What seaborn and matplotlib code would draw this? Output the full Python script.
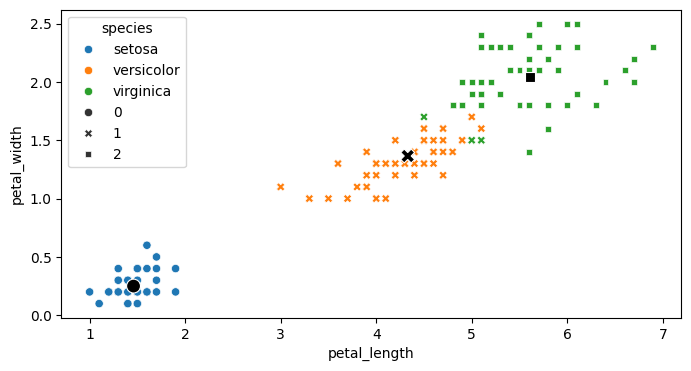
import numpy as np
import pandas as pd
import matplotlib
matplotlib.use("Agg")
import matplotlib.pyplot as plt
import seaborn as sns

# iris petal measurements (setosa, versicolor, virginica in order)
petal_length = [
    1.4, 1.4, 1.3, 1.5, 1.4, 1.7, 1.4, 1.5, 1.4, 1.5,
    1.5, 1.6, 1.4, 1.1, 1.2, 1.5, 1.3, 1.4, 1.7, 1.5,
    1.7, 1.5, 1.0, 1.7, 1.9, 1.6, 1.6, 1.5, 1.4, 1.6,
    1.6, 1.5, 1.5, 1.4, 1.5, 1.2, 1.3, 1.4, 1.3, 1.5,
    1.3, 1.3, 1.3, 1.6, 1.9, 1.4, 1.6, 1.4, 1.5, 1.4,
    4.7, 4.5, 4.9, 4.0, 4.6, 4.5, 4.7, 3.3, 4.6, 3.9,
    3.5, 4.2, 4.0, 4.7, 3.6, 4.4, 4.5, 4.1, 4.5, 3.9,
    4.8, 4.0, 4.9, 4.7, 4.3, 4.4, 4.8, 5.0, 4.5, 3.5,
    3.8, 3.7, 3.9, 5.1, 4.5, 4.5, 4.7, 4.4, 4.1, 4.0,
    4.4, 4.6, 4.0, 3.3, 4.2, 4.2, 4.2, 4.3, 3.0, 4.1,
    6.0, 5.1, 5.9, 5.6, 5.8, 6.6, 4.5, 6.3, 5.8, 6.1,
    5.1, 5.3, 5.5, 5.0, 5.1, 5.3, 5.5, 6.7, 6.9, 5.0,
    5.7, 4.9, 6.7, 4.9, 5.7, 6.0, 4.8, 4.9, 5.6, 5.8,
    6.1, 6.4, 5.6, 5.1, 5.6, 6.1, 5.6, 5.5, 4.8, 5.4,
    5.6, 5.1, 5.1, 5.9, 5.7, 5.2, 5.0, 5.2, 5.4, 5.1,
]
petal_width = [
    0.2, 0.2, 0.2, 0.2, 0.2, 0.4, 0.3, 0.2, 0.2, 0.1,
    0.2, 0.2, 0.1, 0.1, 0.2, 0.4, 0.4, 0.3, 0.3, 0.3,
    0.2, 0.4, 0.2, 0.5, 0.2, 0.2, 0.4, 0.2, 0.2, 0.2,
    0.2, 0.4, 0.1, 0.2, 0.2, 0.2, 0.2, 0.1, 0.2, 0.2,
    0.3, 0.3, 0.2, 0.6, 0.4, 0.3, 0.2, 0.2, 0.2, 0.2,
    1.4, 1.5, 1.5, 1.3, 1.5, 1.3, 1.6, 1.0, 1.3, 1.4,
    1.0, 1.5, 1.0, 1.4, 1.3, 1.4, 1.5, 1.0, 1.5, 1.1,
    1.8, 1.3, 1.5, 1.2, 1.3, 1.4, 1.4, 1.7, 1.5, 1.0,
    1.1, 1.0, 1.2, 1.6, 1.5, 1.6, 1.5, 1.3, 1.3, 1.3,
    1.2, 1.4, 1.2, 1.0, 1.3, 1.2, 1.3, 1.3, 1.1, 1.3,
    2.5, 1.9, 2.1, 1.8, 2.2, 2.1, 1.7, 1.8, 1.8, 2.5,
    2.0, 1.9, 2.1, 2.0, 2.4, 2.3, 1.8, 2.2, 2.3, 1.5,
    2.3, 2.0, 2.0, 1.8, 2.1, 1.8, 1.8, 1.8, 2.1, 1.6,
    1.9, 2.0, 2.2, 1.5, 1.4, 2.3, 2.4, 1.8, 1.8, 2.1,
    2.4, 2.3, 1.9, 2.3, 2.5, 2.3, 1.9, 2.0, 2.3, 1.8,
]
species = ["setosa"] * 50 + ["versicolor"] * 50 + ["virginica"] * 50

# cluster labels
cluster = (
    [0] * 50
    + [1] * 20 + [2] + [1] * 29
    + [2] * 6 + [1] + [2] * 12 + [1] + [2] * 13 + [1] + [2] * 16
)

# cluster centres
center_x = [1.46, 4.33, 5.61]
center_y = [0.25, 1.365, 2.045]
center_label = [0, 1, 2]

df = pd.DataFrame({"petal_length": petal_length, "petal_width": petal_width,
                   "species": species})

plt.figure(figsize=(8, 4))
sns.scatterplot(data=df, x="petal_length", y="petal_width", hue="species",
                style=np.array(cluster))
sns.scatterplot(x=center_x, y=center_y, style=center_label, color="black",
                s=100, legend=False)
plt.savefig("out.png", dpi=100, bbox_inches="tight")
